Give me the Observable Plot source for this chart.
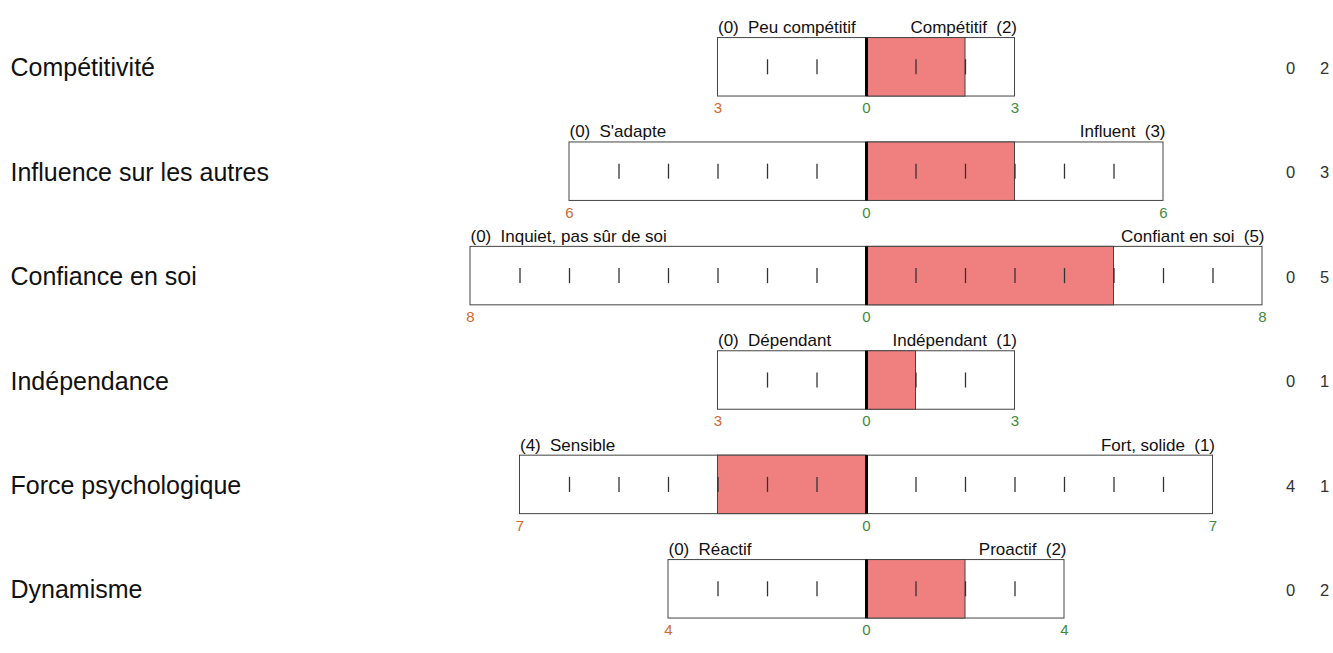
<!DOCTYPE html>
<html>
<head>
<meta charset="utf-8">
<script src="https://cdn.jsdelivr.net/npm/d3@7"></script>
<script src="https://cdn.jsdelivr.net/npm/@observablehq/plot@0.6"></script>
<style>
  html, body { margin: 0; padding: 0; background: #fff; }
  svg { font-family: "Liberation Sans", Arial, sans-serif; }
</style>
</head>
<body>
<div id="chart"></div>
<script>
const categories = ["Compétitivité", "Influence sur les autres", "Confiance en soi", "Indépendance", "Force psychologique", "Dynamisme"];
const leftLabels = ["Peu compétitif", "S'adapte", "Inquiet, pas sûr de soi", "Dépendant", "Sensible", "Réactif"];
const rightLabels = ["Compétitif", "Influent", "Confiant en soi", "Indépendant", "Fort, solide", "Proactif"];
const leftScores = [0, 0, 0, 0, 4, 0];
const rightScores = [2, 3, 5, 1, 1, 2];
const scaleMax = [3, 6, 8, 3, 7, 4];

const H = 0.28; // box half-height in row units
const rows = categories.map((c, i) => ({
  i, category: c,
  leftLabel: leftLabels[i], rightLabel: rightLabels[i],
  left: leftScores[i], right: rightScores[i],
  max: scaleMax[i], net: rightScores[i] - leftScores[i]
}));
const ticks = rows.flatMap(r => d3.range(-(r.max - 1), r.max).filter(v => v !== 0).map(v => ({i: r.i, v})));

const orange = "#d2692e";
const green = "#3f8a3f";

const chart = Plot.plot({
  width: 1333,
  height: 653,
  margin: 0,
  x: {domain: [-866 / 49.5, 467 / 49.5], axis: null},
  y: {domain: [-0.6398, 5.6149], range: [0, 653], axis: null},
  marks: [
    Plot.rect(rows, {x1: d => -d.max, x2: d => d.max, y1: d => d.i - H, y2: d => d.i + H, fill: "white", stroke: "#444", strokeWidth: 1}),
    Plot.rect(rows, {x1: 0, x2: "net", y1: d => d.i - H, y2: d => d.i + H, fill: "lightcoral", stroke: "#444", strokeWidth: 1}),
    Plot.ruleX(ticks, {x: "v", y1: d => d.i - 0.072, y2: d => d.i + 0.072, stroke: "#333", strokeWidth: 1.3}),
    Plot.ruleX(rows, {x: 0, y1: d => d.i - H, y2: d => d.i + H, stroke: "black", strokeWidth: 3}),
    // top labels
    Plot.text(rows, {x: d => -d.max, y: d => d.i - H, text: d => `(${d.left})`, textAnchor: "start", lineAnchor: "bottom", dy: -5, fontSize: 17, fill: "#111"}),
    Plot.text(rows, {x: d => -d.max, y: d => d.i - H, text: "leftLabel", textAnchor: "start", lineAnchor: "bottom", dx: 30, dy: -5, fontSize: 17, fill: "#111"}),
    Plot.text(rows, {x: "max", y: d => d.i - H, text: d => `(${d.right})`, textAnchor: "end", lineAnchor: "bottom", dx: 2, dy: -5, fontSize: 17, fill: "#111"}),
    Plot.text(rows, {x: "max", y: d => d.i - H, text: "rightLabel", textAnchor: "end", lineAnchor: "bottom", dx: -28, dy: -5, fontSize: 17, fill: "#111"}),
    // bottom scale numbers
    Plot.text(rows, {x: d => -d.max, y: d => d.i + H, text: d => String(d.max), lineAnchor: "top", dy: 6, fontSize: 15, fill: orange}),
    Plot.text(rows, {x: 0, y: d => d.i + H, text: d => "0", lineAnchor: "top", dy: 6, fontSize: 15, fill: green}),
    Plot.text(rows, {x: "max", y: d => d.i + H, text: d => String(d.max), lineAnchor: "top", dy: 6, fontSize: 15, fill: green}),
    // category labels
    Plot.text(rows, {y: "i", text: "category", frameAnchor: "left", textAnchor: "start", dx: 10, dy: 1, fontSize: 25, fill: "#111"}),
    // right scores
    Plot.text(rows, {y: "i", text: d => String(d.left), frameAnchor: "right", textAnchor: "middle", dx: -43, dy: 1.5, fontSize: 16.5, fill: "#333"}),
    Plot.text(rows, {y: "i", text: d => String(d.right), frameAnchor: "right", textAnchor: "middle", dx: -9, dy: 1.5, fontSize: 16.5, fill: "#333"})
  ]
});
document.getElementById("chart").appendChild(chart);
</script>
</body>
</html>
